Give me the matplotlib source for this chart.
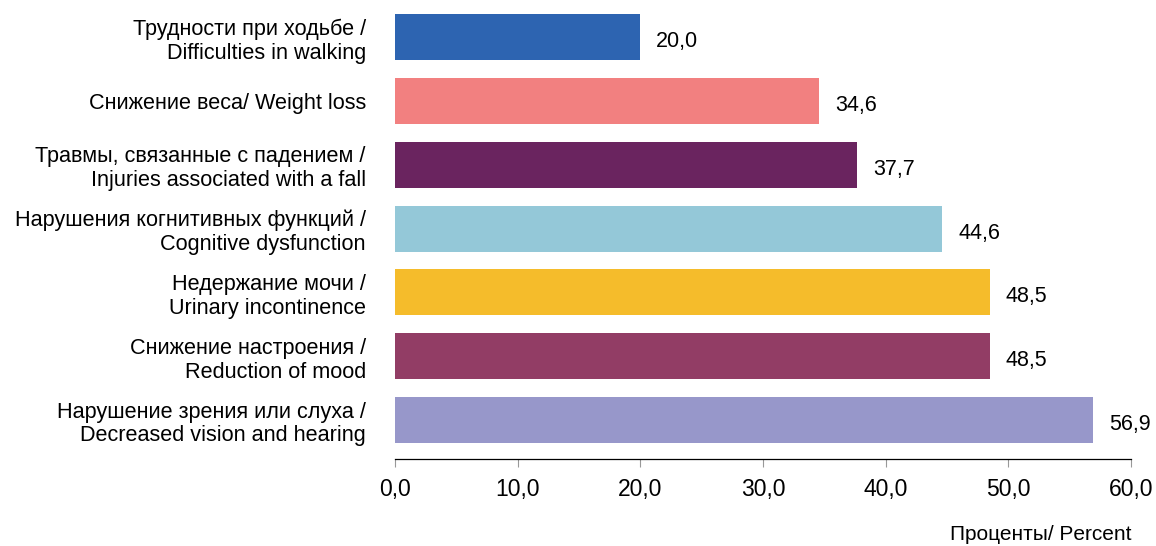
import matplotlib.pyplot as plt
from matplotlib.ticker import FuncFormatter

# Data
labels = ["Трудности при ходьбе /\nDifficulties in walking",
          "Снижение веса/ Weight loss",
          "Травмы, связанные с падением /\nInjuries associated with a fall",
          "Нарушения когнитивных функций /\nCognitive dysfunction",
          "Недержание мочи /\nUrinary incontinence",
          "Снижение настроения /\nReduction of mood",
          "Нарушение зрения или слуха /\nDecreased vision and hearing"]
values = [20.0, 34.6, 37.7, 44.6, 48.5, 48.5, 56.9]
colors = ["#2D64B1", "#F28080", "#6A245F", "#94C8D8", "#F5BC2B", "#923D65", "#9797CA"]
xticks = [0, 10, 20, 30, 40, 50, 60]

plt.rcParams['font.family'] = ['Liberation Sans', 'DejaVu Sans']

fig = plt.figure(figsize=(11.56, 5.46), dpi=100)
ax = fig.add_axes([395/1156, 87/546, 736/1156, 459/546])

ypos = list(range(len(values)))
ax.barh(ypos, values, height=0.72, color=colors)
for y, v in zip(ypos, values):
    ax.text(v + 1.3, y + 0.07, ("%.1f" % v).replace('.', ','), va='center', ha='left', fontsize=15.5)

ax.set_ylim(6.61, -0.58)
ax.set_xlim(0, 60)
ax.set_yticks(ypos)
ax.set_yticklabels(labels, fontsize=15.6, linespacing=1.18)
ax.tick_params(axis='y', length=0, pad=21)
ax.set_xticks(xticks)
ax.xaxis.set_major_formatter(FuncFormatter(lambda x, p: ("%.1f" % x).replace('.', ',')))
ax.tick_params(axis='x', labelsize=16.5, length=6, pad=8, color='#999999')
for s in ['top', 'right', 'left']:
    ax.spines[s].set_visible(False)
ax.spines['bottom'].set_linewidth(0.9)

fig.text(1131/1156, 1 - 535/546, "Проценты/ Percent", ha='right', va='center', fontsize=15)

fig.savefig("out.png", dpi=100)
